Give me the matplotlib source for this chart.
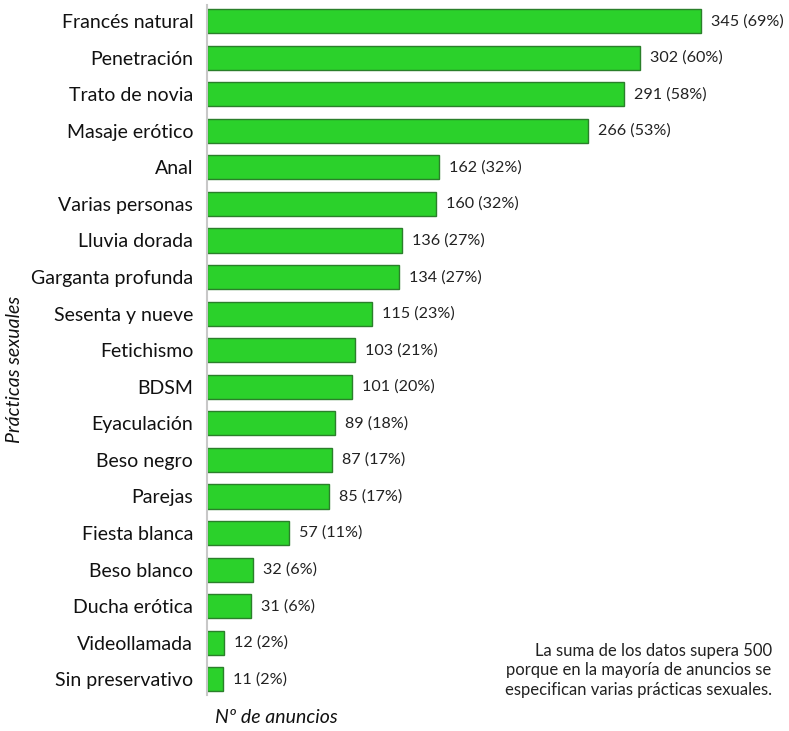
import matplotlib.pyplot as plt

practicas = ["Francés natural", "Penetración", "Trato de novia", "Masaje erótico",
             "Anal", "Varias personas", "Lluvia dorada", "Garganta profunda",
             "Sesenta y nueve", "Fetichismo", "BDSM", "Eyaculación", "Beso negro",
             "Parejas", "Fiesta blanca", "Beso blanco", "Ducha erótica",
             "Videollamada", "Sin preservativo"]
anuncios = [345, 302, 291, 266, 162, 160, 136, 134, 115, 103, 101, 89, 87, 85,
            57, 32, 31, 12, 11]
porcentaje = [69, 60, 58, 53, 32, 32, 27, 27, 23, 21, 20, 18, 17, 17, 11, 6, 6, 2, 2]

plt.rcParams['font.family'] = ['Lato', 'DejaVu Sans']

fig = plt.figure(figsize=(7.89, 7.31), dpi=100)
ax = fig.add_axes([0.2624, 0.0492, 0.7262, 0.9440])

pos = list(range(len(practicas)))
ax.barh(pos, anuncios, height=0.66, color="#2bd12b", edgecolor="#2a7f2a", linewidth=1.0)

for p, v, pc in zip(pos, anuncios, porcentaje):
    ax.text(v + 7, p, f"{v} ({pc}%)", va="center", ha="left", fontsize=11.6, color="#222222")

ax.set_yticks(pos)
ax.set_yticklabels(practicas, fontsize=14, color="#111111")
ax.tick_params(axis="y", length=0, pad=10)
ax.set_xticks([])
ax.set_xlim(0, 400)
ax.set_ylim(18.43, -0.44)

for s in ["top", "right", "bottom"]:
    ax.spines[s].set_visible(False)
ax.spines["left"].set_color("#c8c8c8")
ax.spines["left"].set_linewidth(1.5)

fig.text(0.019, 0.494, "Prácticas sexuales", rotation=90, style="italic",
         fontsize=14, ha="center", va="center", color="#111111")
fig.text(0.272, 0.018, "Nº de anuncios", style="italic", fontsize=14,
         ha="left", va="center", color="#111111")
fig.text(0.978, 0.083, "La suma de los datos supera 500\nporque en la mayoría de anuncios se\nespecifican varias prácticas sexuales.",
         ha="right", va="center", fontsize=12, linespacing=1.25, color="#222222",
         multialignment="right")

fig.savefig("out.png", dpi=100)
